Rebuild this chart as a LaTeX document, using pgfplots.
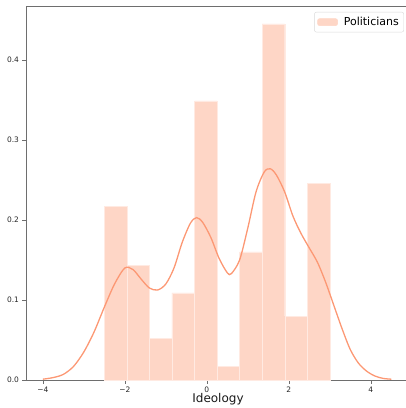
\documentclass[border=0pt]{standalone}
\usepackage{pgfplots}
\pgfplotsset{compat=1.18}
\usepackage{fontspec}
\setmainfont{DejaVu Sans}
\definecolor{kde}{RGB}{252,152,116}
\definecolor{barc}{RGB}{254,214,198}
\definecolor{spine}{RGB}{110,110,110}
\begin{document}
\begin{tikzpicture}
\path[use as bounding box] (-26pt,-28pt) rectangle (380pt,380pt);
\begin{axis}[
  scale only axis, width=384pt, height=374pt,
  xmin=-4.41, xmax=4.956, ymin=0, ymax=0.4675,
  axis line style={spine, line width=0.8pt},
  tick style={spine, line width=0.6pt},
  tick align=outside, major tick length=3.5pt,
  xtick pos=lower, ytick pos=left,
  xtick={-4,-2,0,2,4}, xticklabels={−4,−2,0,2,4},
  ytick={0,0.1,0.2,0.3,0.4}, yticklabels={0.0,0.1,0.2,0.3,0.4},
  ticklabel style={font=\fontsize{7.5}{9}\selectfont, text=black!85},
  xlabel={Ideology},
  xlabel style={font=\fontsize{12}{14}\selectfont, text=black!90, yshift=6pt},
  legend style={at={(1,1)}, anchor=north east, xshift=-6pt, yshift=-6pt,
    draw=black!15, rounded corners=2pt, font=\fontsize{11}{13}\selectfont,
    inner xsep=3pt, inner ysep=3pt},
  legend image code/.code={\fill[barc] (0pt,-3.5pt) rectangle (20pt,3.5pt);},
  legend cell align=left,
]
\addplot[ybar interval, fill=barc, draw=white!50!barc, line width=0.4pt] coordinates {
(-2.5,0.217) (-1.95,0.143) (-1.4,0.052) (-0.85,0.109) (-0.3,0.349)
(0.25,0.017) (0.8,0.160) (1.35,0.445) (1.9,0.080) (2.45,0.246) (3.0,0.246)
};
\addlegendentry{\hspace{4pt}Politicians}
\addplot[kde, line width=1.3pt, smooth, forget plot] coordinates {
(-4.0,0.001) (-3.75,0.003) (-3.5,0.007) (-3.25,0.017) (-3.0,0.035)
(-2.75,0.060) (-2.5,0.091) (-2.25,0.120) (-2.0,0.140) (-1.8,0.138)
(-1.6,0.126) (-1.4,0.115) (-1.2,0.1125) (-1.0,0.120) (-0.8,0.140)
(-0.6,0.172) (-0.4,0.196) (-0.25,0.203) (-0.1,0.197) (0.1,0.178)
(0.3,0.152) (0.5,0.134) (0.6,0.133) (0.8,0.150) (1.0,0.190)
(1.2,0.235) (1.4,0.260) (1.55,0.264) (1.7,0.256) (1.9,0.235)
(2.1,0.205) (2.3,0.183) (2.5,0.165) (2.7,0.147) (2.9,0.122)
(3.1,0.093) (3.3,0.064) (3.5,0.038) (3.7,0.021) (3.9,0.011)
(4.1,0.005) (4.3,0.002) (4.5,0.001)
};
\end{axis}
\end{tikzpicture}
\end{document}
